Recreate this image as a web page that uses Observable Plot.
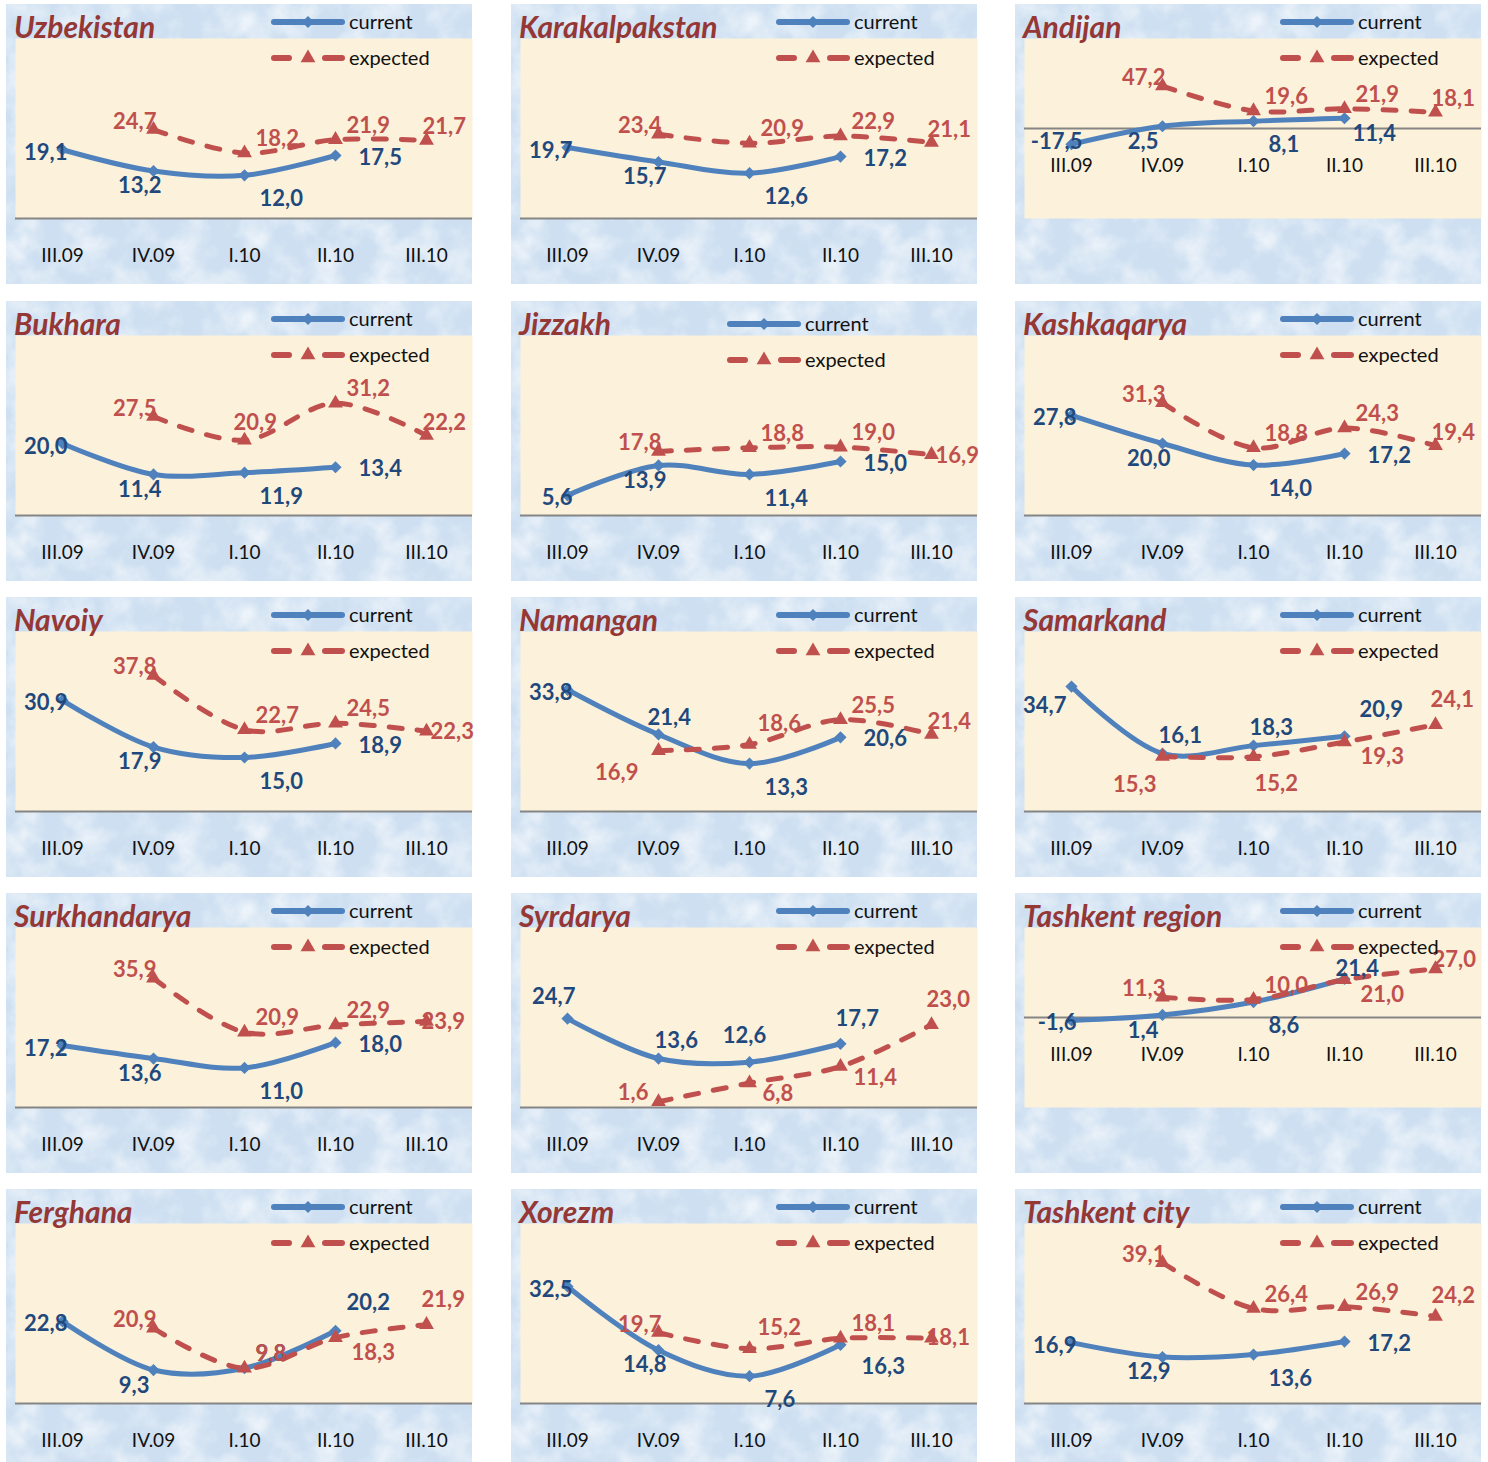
<!DOCTYPE html>
<html>
<head>
<meta charset="utf-8">
<script src="https://cdn.jsdelivr.net/npm/d3@7"></script>
<script src="https://cdn.jsdelivr.net/npm/@observablehq/plot@0.6"></script>
<style>
  html, body { margin: 0; padding: 0; background: #ffffff; }
  #root { position: relative; width: 1488px; height: 1462px; overflow: hidden; font-family: Lato, "Open Sans", sans-serif; }
  .panel { position: absolute; width: 466px; height: 280px; background-color: #cddff1; }
  .panel svg.chart { position: absolute; left: 0; top: 0; }
  .title { position: absolute; left: 8px; top: 7px; font: italic 700 30px/1 Lato, sans-serif; color: #953735; white-space: nowrap; }
  .legend { position: absolute; left: 0; top: 0; pointer-events: none; }
</style>
</head>
<body>
<div id="root"></div>
<script>
// ---------- data ----------
const periods = ["III.09", "IV.09", "I.10", "II.10", "III.10"];

const regions = ["Uzbekistan", "Karakalpakstan", "Andijan", "Bukhara", "Jizzakh", "Kashkaqarya",
  "Navoiy", "Namangan", "Samarkand", "Surkhandarya", "Syrdarya", "Tashkent region",
  "Ferghana", "Xorezm", "Tashkent city"];

const currentValues = [
  [19.1, 13.2, 12.0, 17.5, null],
  [19.7, 15.7, 12.6, 17.2, null],
  [-17.5, 2.5, 8.1, 11.4, null],
  [20.0, 11.4, 11.9, 13.4, null],
  [5.6, 13.9, 11.4, 15.0, null],
  [27.8, 20.0, 14.0, 17.2, null],
  [30.9, 17.9, 15.0, 18.9, null],
  [33.8, 21.4, 13.3, 20.6, null],
  [34.7, 16.1, 18.3, 20.9, null],
  [17.2, 13.6, 11.0, 18.0, null],
  [24.7, 13.6, 12.6, 17.7, null],
  [-1.6, 1.4, 8.6, 21.4, null],
  [22.8, 9.3, 9.8, 20.2, null],
  [32.5, 14.8, 7.6, 16.3, null],
  [16.9, 12.9, 13.6, 17.2, null]
];

const expectedValues = [
  [null, 24.7, 18.2, 21.9, 21.7],
  [null, 23.4, 20.9, 22.9, 21.1],
  [null, 47.2, 19.6, 21.9, 18.1],
  [null, 27.5, 20.9, 31.2, 22.2],
  [null, 17.8, 18.8, 19.0, 16.9],
  [null, 31.3, 18.8, 24.3, 19.4],
  [null, 37.8, 22.7, 24.5, 22.3],
  [null, 16.9, 18.6, 25.5, 21.4],
  [null, 15.3, 15.2, 19.3, 24.1],
  [null, 35.9, 20.9, 22.9, 23.9],
  [null, 1.6, 6.8, 11.4, 23.0],
  [null, 11.3, 10.0, 21.0, 27.0],
  [null, 20.9, 9.8, 18.3, 21.9],
  [null, 19.7, 15.2, 18.1, 18.1],
  [null, 39.1, 26.4, 26.9, 24.2]
];

// y-axis extent of each panel
const yMin = [0, 0, -100, 0, 0, 0, 0, 0, 0, 0, 0, -50, 0, 0, 0];
const yMax = [50, 50, 100, 50, 50, 50, 50, 50, 50, 50, 50, 50, 50, 50, 50];

// ---------- label placement (presentation) ----------
const P = {
  L: ["end", 5, 3], L3: ["end", 11, -2], LB: ["end", -5, 19], L2: ["end", -10, -9],
  B: ["end", 8, 15], B2: ["start", 1, 27], B3: ["end", -4, 16],
  BL: ["end", -20, 22], BL2: ["end", -6, 29],
  BR: ["start", 15, 24], BR2: ["start", 13, 11], BR3: ["start", 21, 22],
  R: ["start", 23, 2], R2: ["start", 4, 1], R3: ["start", -5, 0],
  RB: ["start", 8, 16], RB2: ["start", 16, 15],
  A: ["start", -11, -17], A2: ["start", -4, -18], A3: ["start", -5, -25],
  A4: ["middle", -5, -26], A6: ["start", -9, -10], A7: ["start", -4, -20],
  AL: ["end", 3, -8], AL2: ["end", 8, -22],
  AR: ["start", 11, -14], AR2: ["start", -4, -13], AR5: ["start", -3, -9], AR3: ["start", 8, -21],
  AR4: ["start", 15, -26], AR6: ["start", 11, -28]
};
const currentPos = [
  ["L", "B", "BR", "R", null],
  ["L", "B", "BR", "R", null],
  ["L3", "B3", "BR", "RB", null],
  ["L", "B", "BR", "R", null],
  ["L", "B", "BR", "R", null],
  ["L", "B", "BR", "R", null],
  ["L", "B", "BR", "R", null],
  ["L", "A", "BR", "R", null],
  ["LB", "A2", "A2", "AR4", null],
  ["L", "B", "BR", "R", null],
  ["AL2", "A2", "A4", "A3", null],
  ["L", "B3", "BR", "A6", null],
  ["L", "B3", "AR", "AR6", null],
  ["L", "B", "BR", "BR3", null],
  ["L", "B", "BR", "R", null]
];
const expectedPos = [
  [null, "AL", "AR", "AR", "AR2"],
  [null, "AL", "AR", "AR", "AR2"],
  [null, "AL", "AR", "AR", "AR2"],
  [null, "AL", "A", "AR", "AR2"],
  [null, "AL", "AR", "AR", "R2"],
  [null, "AL", "AR", "AR", "AR2"],
  [null, "AL", "AR", "AR", "R2"],
  [null, "BL", "AR3", "AR", "AR2"],
  [null, "BL2", "B2", "RB2", "A3"],
  [null, "AL", "AR", "AR", "R3"],
  [null, "L2", "BR2", "BR2", "A3"],
  [null, "AL", "AR", "RB2", "AR5"],
  [null, "AL", "AR", "RB2", "A3"],
  [null, "AL", "AR3", "AR", "R3"],
  [null, "AL", "AR", "AR", "A7"]
];

// ---------- layout & style ----------
const colLeft = [6, 511, 1015];
const rowTop = [4, 301, 597, 893, 1189];
const BLUE = "#4f81bd", RED = "#c0504d", BLUE_TXT = "#1f497d", RED_TXT = "#c0504d";

const noiseSvg = "<svg xmlns='http://www.w3.org/2000/svg' width='466' height='280'>" +
  "<filter id='n'><feTurbulence type='fractalNoise' baseFrequency='0.03' numOctaves='4' seed='7'/>" +
  "<feColorMatrix values='0 0 0 0 1  0 0 0 0 1  0 0 0 0 1  1.4 0 0 0 -0.55'/></filter>" +
  "<rect width='100%' height='100%' filter='url(#n)'/></svg>";
const noiseUrl = "url(\"data:image/svg+xml," + encodeURIComponent(noiseSvg) + "\")";

const fmt = v => v.toFixed(1).replace(".", ",");
const root = document.getElementById("root");

regions.forEach((name, i) => {
  const panel = document.createElement("div");
  panel.className = "panel";
  panel.style.left = colLeft[i % 3] + "px";
  panel.style.top = rowTop[Math.floor(i / 3)] + "px";
  panel.style.backgroundImage = noiseUrl;

  const cur = periods.map((p, j) => ({period: p, value: currentValues[i][j], pos: currentPos[i][j]})).filter(d => d.value != null);
  const exp = periods.map((p, j) => ({period: p, value: expectedValues[i][j], pos: expectedPos[i][j]})).filter(d => d.value != null);

  const labels = (data, color) => data.map(d => Plot.text([d], {
    x: "period", y: "value", text: d => fmt(d.value),
    textAnchor: P[d.pos][0], dx: P[d.pos][1], dy: P[d.pos][2],
    fill: color, fontSize: 22, fontWeight: "bold"
  }));

  const chart = Plot.plot({
    width: 466, height: 280,
    marginLeft: 9, marginRight: 0, marginTop: 34, marginBottom: 66,
    x: {type: "point", domain: periods, padding: 0.5, axis: null},
    y: {domain: [yMin[i], yMax[i]], axis: null},
    style: {background: "none", fontFamily: "Lato, sans-serif", overflow: "visible"},
    marks: [
      Plot.frame({fill: "#fcf1da", stroke: "none"}),
      Plot.ruleY([0], {stroke: "#858585", strokeWidth: 2}),
      Plot.text(periods, {x: d => d, y: () => 0, dy: 37, fontSize: 19, fill: "#111"}),
      Plot.line(cur, {x: "period", y: "value", stroke: BLUE, strokeWidth: 5, curve: "catmull-rom"}),
      Plot.line(exp, {x: "period", y: "value", stroke: RED, strokeWidth: 5, curve: "catmull-rom",
        strokeDasharray: "13,15", strokeLinecap: "round"}),
      Plot.dot(cur, {x: "period", y: "value", symbol: "diamond2", r: 5.5, fill: BLUE, stroke: "none"}),
      Plot.dot(exp, {x: "period", y: "value", symbol: "triangle", r: 5.5, fill: RED, stroke: "none"}),
      ...labels(cur, BLUE_TXT),
      ...labels(exp, RED_TXT)
    ]
  });
  chart.classList.add("chart");
  panel.appendChild(chart);

  // legend
  const shiftX = name === "Jizzakh" ? -49 : 0, shiftY = name === "Jizzakh" ? 5 : 0;
  const lg = d3.create("svg").attr("class", "legend").attr("width", 466).attr("height", 80)
    .style("font-family", "Lato, sans-serif");
  const g = lg.append("g").attr("transform", `translate(${shiftX},${shiftY})`);
  g.append("line").attr("x1", 268).attr("x2", 336).attr("y1", 18).attr("y2", 18)
    .attr("stroke", BLUE).attr("stroke-width", 6).attr("stroke-linecap", "round");
  g.append("path").attr("d", d3.symbol(d3.symbolDiamond2, 95)()).attr("transform", "translate(302,18)").attr("fill", BLUE);
  g.append("line").attr("x1", 268).attr("x2", 283).attr("y1", 54).attr("y2", 54)
    .attr("stroke", RED).attr("stroke-width", 6).attr("stroke-linecap", "round");
  g.append("line").attr("x1", 319).attr("x2", 336).attr("y1", 54).attr("y2", 54)
    .attr("stroke", RED).attr("stroke-width", 6).attr("stroke-linecap", "round");
  g.append("path").attr("d", d3.symbol(d3.symbolTriangle, 95)()).attr("transform", "translate(302,54)").attr("fill", RED);
  g.append("text").attr("x", 343).attr("y", 18).attr("dy", "0.35em").attr("font-size", 20).attr("fill", "#111").text("current");
  g.append("text").attr("x", 343).attr("y", 54).attr("dy", "0.35em").attr("font-size", 20).attr("fill", "#111").text("expected");
  panel.appendChild(lg.node());

  const title = document.createElement("div");
  title.className = "title";
  title.textContent = name;
  panel.appendChild(title);

  root.appendChild(panel);
});
</script>
</body>
</html>
